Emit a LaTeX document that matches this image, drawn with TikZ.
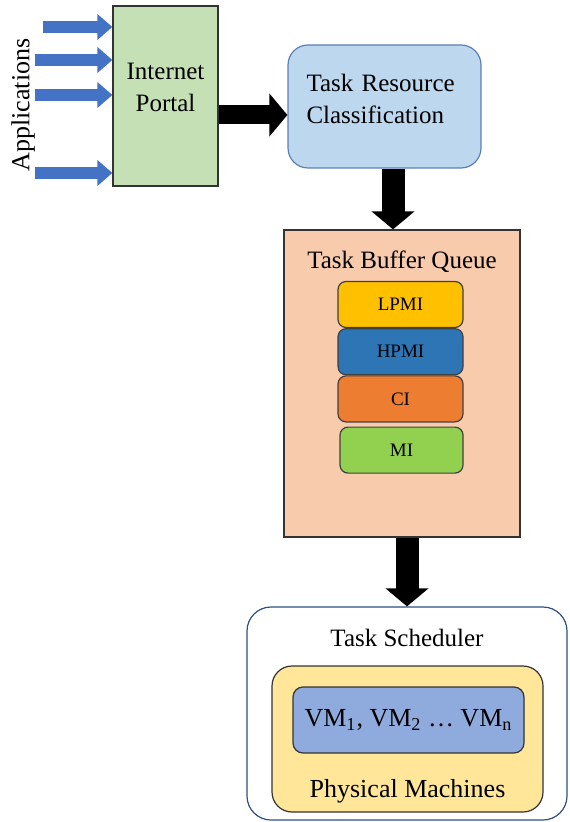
\documentclass[tikz,border=0pt]{standalone}
\usepackage{fontspec}
\setmainfont{Liberation Serif}
\usepackage{xcolor}
\usepackage{tikz}
\usetikzlibrary{arrows.meta,positioning}

\definecolor{portalgreen}{HTML}{C5E0B4}
\definecolor{resblue}{HTML}{BDD7EE}
\definecolor{resedge}{HTML}{5B7FB5}
\definecolor{bufferpeach}{HTML}{F8CBAD}
\definecolor{lpmiyellow}{HTML}{FFC000}
\definecolor{hpmiblue}{HTML}{2E75B6}
\definecolor{ciorange}{HTML}{ED7D31}
\definecolor{migreen}{HTML}{92D050}
\definecolor{schededge}{HTML}{2F4F7F}
\definecolor{pmyellow}{HTML}{FFE699}
\definecolor{vmblue}{HTML}{8FAADC}
\definecolor{appblue}{HTML}{4472C4}

\begin{document}
\begin{tikzpicture}[
    x=0.5pt, y=-0.5pt,
    box/.style={rectangle, draw=black!80, line width=0.6pt, align=center, font=\fontsize{12.5}{16}\selectfont},
    queuebox/.style={rectangle, draw=black!75, line width=0.6pt, rounded corners=4pt, minimum width=62.5pt, minimum height=23pt, font=\fontsize{9.5}{11}\selectfont},
    apparrow/.style={appblue, line width=6pt, -{Triangle[length=7.5pt, width=12.5pt]}},
    bigarrow/.style={black, line width=#1, -{Triangle[length=9pt, width=21pt]}},
]
\useasboundingbox (0,0) rectangle (569,822);

% Input side
\node[box, fill=portalgreen, minimum width=52.5pt, minimum height=90pt, text depth=9pt] (portal) at (165.5,96) {Internet\\Portal};
\node[rotate=90, font=\fontsize{13}{15}\selectfont] (apps) at (23,105) {Applications};

\coordinate (app1) at (43,27);
\coordinate (app2) at (35,60);
\coordinate (app3) at (35,95);
\coordinate (app4) at (35,173);
\foreach \a in {app1,app2,app3,app4}
    \draw[apparrow] (\a) -- (portal.west |- \a);

% Classification and queue
\node[box, fill=resblue, draw=resedge, rounded corners=10pt, minimum width=96.5pt, minimum height=61.5pt, text width=78pt, align=left, text depth=24pt] (res) at (384.5,106.5) {Task Resource\\Classification};

\node[box, fill=bufferpeach, minimum width=118pt, minimum height=153.5pt,
      label={[anchor=north, yshift=-7pt, font=\fontsize{12.5}{15}\selectfont]north:Task Buffer Queue}] (buffer) at (402,383.5) {};

\node[queuebox, fill=lpmiyellow] (lpmi) at (400.5,304.5) {LPMI};
\node[queuebox, fill=hpmiblue, below=0pt of lpmi] (hpmi) {HPMI};
\node[queuebox, fill=ciorange, below=0pt of hpmi] (ci) {CI};
\node[queuebox, fill=migreen, below=2pt of ci, xshift=0.5pt, minimum width=61.5pt] (mi) {MI};

% Scheduler
\node[box, draw=schededge, fill=white, rounded corners=12pt, minimum width=160pt, minimum height=106.5pt,
      label={[anchor=north, yshift=-8pt, font=\fontsize{12.5}{15}\selectfont]north:Task Scheduler}] (sched) at (407,713.5) {};
\node[box, fill=pmyellow, rounded corners=10pt, minimum width=135.5pt, minimum height=73pt,
      label={[anchor=south, yshift=1pt, font=\fontsize{13}{15}\selectfont]south:Physical Machines}] (pm) at (407.5,739) {};
\node[box, fill=vmblue, rounded corners=5pt, minimum width=115.5pt, minimum height=33pt, font=\fontsize{13}{15}\selectfont] (vm) at (408.5,720) {VM\textsubscript{1}, VM\textsubscript{2} \dots\ VM\textsubscript{n}};

% Arrows
\coordinate (y1) at (0,115);
\coordinate (x1) at (393,0);
\coordinate (x2) at (407,0);
\draw[bigarrow=9.5pt] (portal.east |- y1) -- (res.west |- y1);
\draw[bigarrow=11.5pt] (res.south -| x1) -- (buffer.north -| x1);
\draw[bigarrow=11.5pt] (buffer.south -| x2) -- (sched.north -| x2);

\end{tikzpicture}
\end{document}
